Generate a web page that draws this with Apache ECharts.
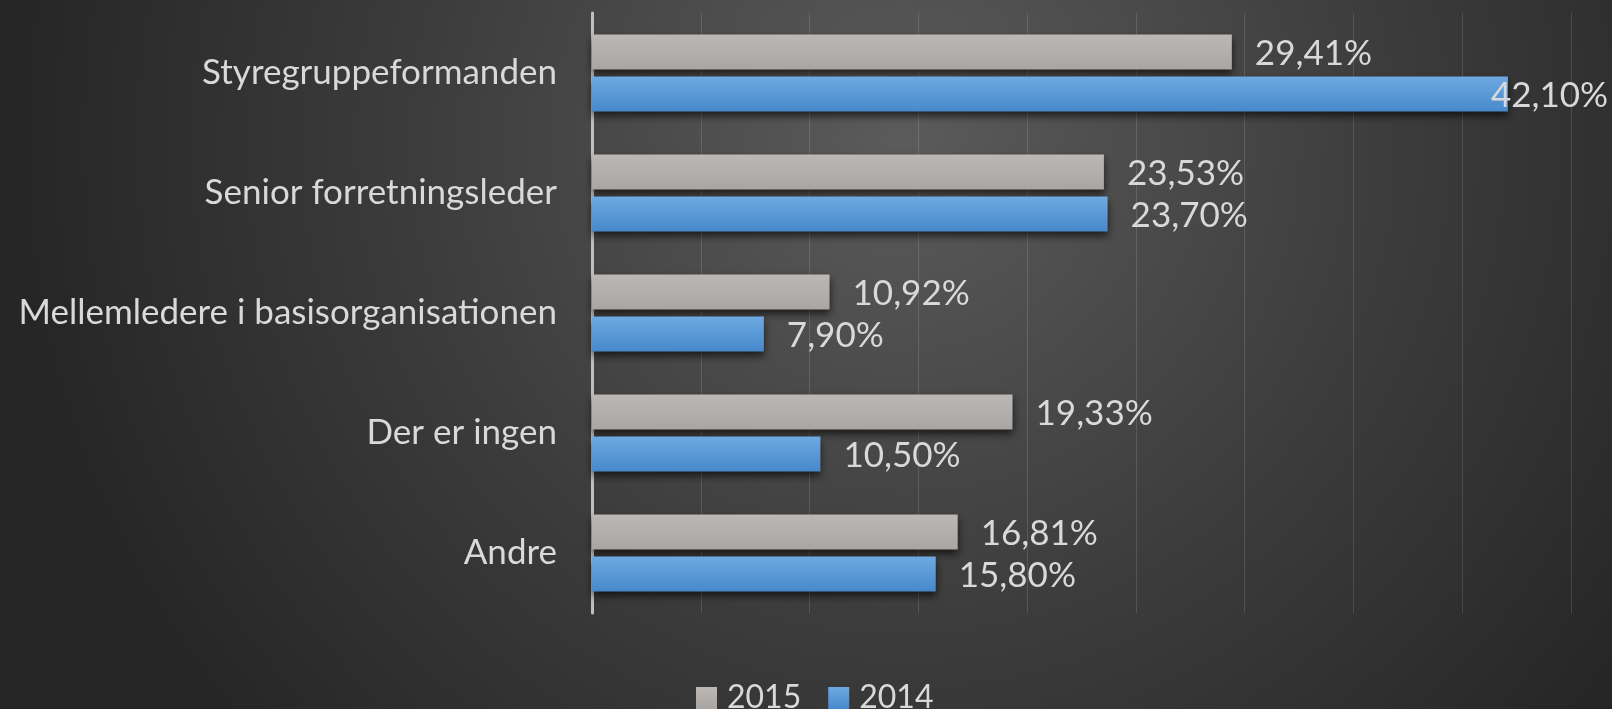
<!DOCTYPE html>
<html>
<head>
<meta charset="utf-8">
<title>Styregruppe</title>
<script src="https://cdn.jsdelivr.net/npm/echarts@6/dist/echarts.min.js"></script>
<style>
    html, body {margin: 0; padding: 0; background: #2b2b2b;}
    #chart {width: 1612px; height: 709px;}
</style>
</head>
<body>
<div id="chart"></div>
<script>
// kategorier, øverst først
var categories = ['Styregruppeformanden', 'Senior forretningsleder', 'Mellemledere i basisorganisationen', 'Der er ingen', 'Andre'];
var years = ['2015', '2014'];
var values2015 = [29.41, 23.53, 10.92, 19.33, 16.81];
var values2014 = [42.10, 23.70, 7.90, 10.50, 15.80];

var FONT = 'Lato';
var TXT = '#d9d9d9';
var FS = 35;

function pct(v) {
    return v.toFixed(2).replace('.', ',') + '%';
}

function barColor(top, bottom) {
    return new echarts.graphic.LinearGradient(0, 0, 0, 1, [
        {offset: 0, color: top},
        {offset: 1, color: bottom}
    ]);
}

function makeSeries(name, vals, top, bottom) {
    return {
        name: name,
        type: 'bar',
        barWidth: 35,
        barGap: '20%',
        data: vals.map(function (v) {
            var item = {value: v};
            // sidste label skubbes ind over søjlen ligesom i Excel
            if (v > 40) {
                item.label = {offset: [-40, 2]};
            }
            return item;
        }),
        itemStyle: {
            color: barColor(top, bottom),
            shadowColor: 'rgba(0,0,0,0.65)',
            shadowBlur: 8,
            shadowOffsetY: 4
        },
        label: {
            show: true,
            position: 'right',
            distance: 23,
            offset: [0, 2],
            color: TXT,
            fontFamily: FONT,
            fontSize: FS,
            formatter: function (p) { return pct(p.value); }
        }
    };
}

var myChart = echarts.init(document.getElementById('chart'));
var option = {
    animation: false,
    backgroundColor: {
        type: 'radial',
        x: 0.56, y: 0.2, r: 1.25,
        colorStops: [
            {offset: 0, color: '#5b5b5b'},
            {offset: 0.55, color: '#3c3c3c'},
            {offset: 1, color: '#262626'}
        ]
    },
    grid: {left: 592, right: 41, top: 13, bottom: 96},
    legend: {
        data: years,
        left: 691,
        top: 677,
        itemWidth: 21,
        itemHeight: 22,
        itemGap: 27,
        icon: 'rect',
        textStyle: {color: TXT, fontFamily: FONT, fontSize: 32, padding: [0, 0, 0, 5]}
    },
    xAxis: {
        type: 'value',
        min: 0,
        max: 45,
        interval: 5,
        axisLine: {show: false},
        axisTick: {show: false},
        axisLabel: {show: false},
        splitLine: {lineStyle: {color: 'rgba(255,255,255,0.13)', width: 1}}
    },
    yAxis: {
        type: 'category',
        inverse: true,
        data: categories,
        axisLine: {lineStyle: {color: '#bfbfbf', width: 3}},
        axisTick: {show: false},
        axisLabel: {color: TXT, fontFamily: FONT, fontSize: FS, margin: 35}
    },
    series: [
        makeSeries(years[0], values2015, '#bcb8b6', '#a9a5a3'),
        makeSeries(years[1], values2014, '#6eaae2', '#4689cc')
    ]
};
myChart.setOption(option);
</script>
</body>
</html>
